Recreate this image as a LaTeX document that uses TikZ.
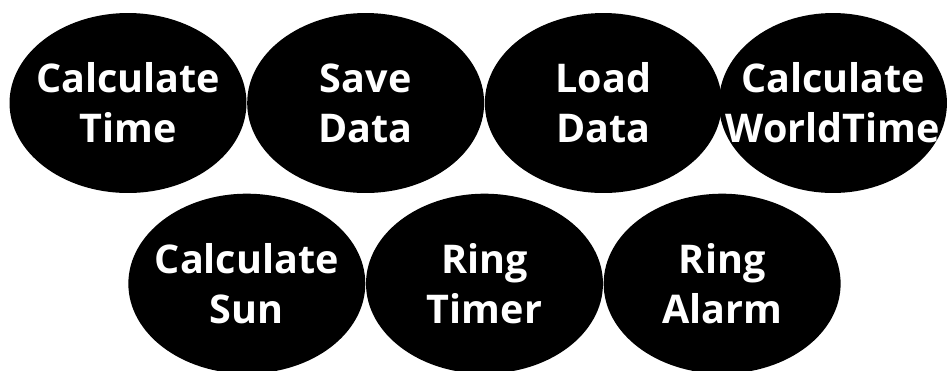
\documentclass[tikz,border=0pt]{standalone}
\usepackage{fontspec}
\setmainfont{Open Sans}
\usetikzlibrary{shapes,positioning}

\begin{document}
\begin{tikzpicture}[x=0.02cm, y=-0.02cm, node distance=0pt]
    \tikzstyle{usecase} = [ellipse, fill=black, text=white, inner ysep=0pt, inner xsep=-1.5cm, minimum width=4.74cm, minimum height=3.6cm, align=center, font=\bfseries\fontsize{22.5}{28.5}\selectfont]
    \useasboundingbox (0,0) rectangle (949,370);

    % Top row
    \node [usecase] (calctime) at (128,103) {Calculate\\Time};
    \node [usecase, right=of calctime] (savedata) {Save\\Data};
    \node [usecase, right=of savedata] (loaddata) {Load\\Data};
    \node [usecase, right=-2pt of loaddata, minimum width=4.56cm] (calcworld) {Calculate\\WorldTime};

    % Bottom row
    \node [usecase, anchor=north] (calcsun) at (calctime.south -| savedata.west) {Calculate\\Sun};
    \node [usecase, right=of calcsun] (ringtimer) {Ring\\Timer};
    \node [usecase, right=of ringtimer] (ringalarm) {Ring\\Alarm};
\end{tikzpicture}
\end{document}
